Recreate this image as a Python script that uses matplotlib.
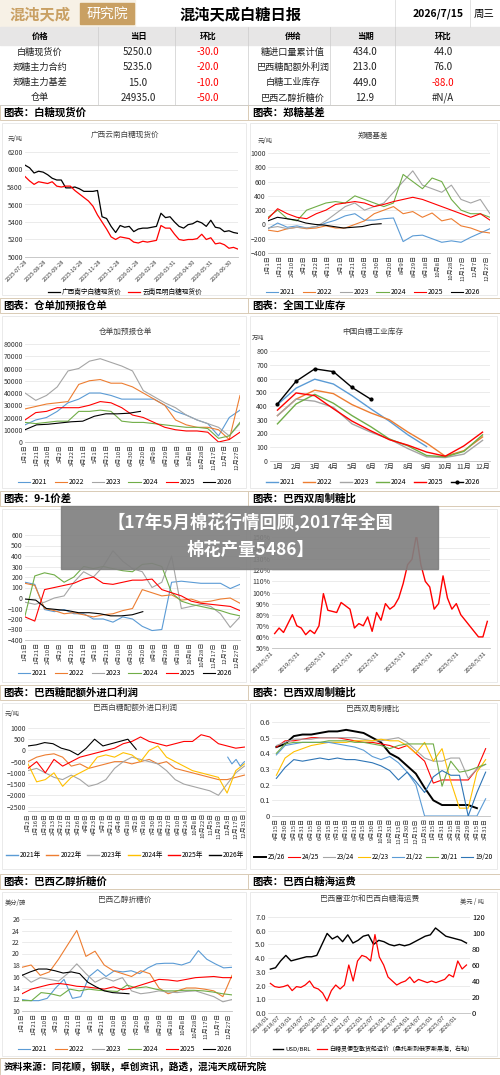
import numpy as np
import matplotlib
matplotlib.use("Agg")
import matplotlib.pyplot as plt
from matplotlib.patches import Rectangle

plt.rcParams['font.family'] = ['Noto Sans CJK SC', 'DejaVu Sans']

W, H = 500, 1075
C = {'2021': '#5b9bd5', '2022': '#ed7d31', '2023': '#a5a5a5',
     '2024': '#70ad47', '2025': '#ff0000', '2026': '#000000'}
YEARS = ['2021', '2022', '2023', '2024', '2025', '2026']

# ---- table ----
tbl_left = [["白糖现货价", "5250.0", "-30.0"], ["郑糖主力合约", "5235.0", "-20.0"],
            ["郑糖主力基差", "15.0", "-10.0"], ["仓单", "24935.0", "-50.0"]]
tbl_right = [["糖进口量累计值", "434.0", "44.0"], ["巴西糖配额外利润", "213.0", "76.0"],
             ["白糖工业库存", "449.0", "-88.0"], ["巴西乙醇折糖价", "12.9", "#N/A"]]

# ---- chart 1: spot price ----
spot_dates = ["2025-07-28", "2025-08-28", "2025-09-28", "2025-10-28", "2025-11-28", "2025-12-28",
              "2026-01-28", "2026-02-28", "2026-03-31", "2026-04-30", "2026-05-31", "2026-06-30"]
spot_nn = [6050, 6020, 5960, 5980, 5970, 5940, 5900, 5880, 5880, 5790, 5790, 5800, 5780, 5750, 5750, 5750,
           5760, 5460, 5440, 5350, 5280, 5360, 5340, 5350, 5290, 5320, 5330, 5330, 5340, 5350, 5500, 5450,
           5460, 5400, 5350, 5330, 5370, 5380, 5410, 5390, 5350, 5420, 5340, 5330, 5290, 5300, 5280, 5270]
spot_km = [5920, 5870, 5830, 5860, 5850, 5840, 5860, 5810, 5800, 5810, 5810, 5760, 5720, 5680, 5640, 5580,
           5480, 5400, 5320, 5230, 5200, 5230, 5220, 5210, 5170, 5160, 5180, 5170, 5180, 5190, 5360, 5330,
           5330, 5260, 5200, 5190, 5200, 5200, 5210, 5260, 5200, 5220, 5150, 5160, 5140, 5100, 5110, 5090]

DAY_LBL = ["1月1日", "1月21日", "2月10日", "3月2日", "3月22日", "4月11日", "5月1日", "5月21日", "6月10日",
           "6月30日", "7月20日", "8月9日", "8月29日", "9月18日", "10月8日", "10月28日", "11月17日",
           "12月7日", "12月27日"]

# ---- chart 2: basis ----
basis = {
    '2021': [-60, 20, -40, -20, -50, -30, 20, 60, 120, 150, 60, 60, 80, 90, -240, -160, -150, -200, -250, -230, -250, -180, -120, -60],
    '2022': [-80, -100, -60, -40, -60, -50, -20, -50, -50, 0, 50, 150, 200, 250, 150, 180, 100, 160, 50, 80, -20, -50, -100, -120],
    '2023': [-50, -30, -60, -40, -50, -30, 50, 150, 250, 300, 200, 250, 300, 450, 600, 750, 550, 500, 450, 550, 350, 300, 350, 150],
    '2024': [100, 200, 80, 50, 200, 250, 300, 320, 300, 400, 350, 300, 250, 300, 700, 600, 500, 650, 600, 350, 200, 150, 150, 100],
    '2025': [80, 220, 150, 100, 80, 150, 200, 280, 300, 320, 300, 250, 280, 320, 350, 380, 350, 300, 250, 200, 150, 100, 150, 60],
    '2026': [50, 100, 80, 60, 20, 0, -10, -30, -50, -40, -30, 0, 10],
}

# ---- chart 3: warehouse receipts ----
receipts = {
    '2021': [14000, 18000, 20000, 25000, 32000, 35000, 40000, 40000, 38000, 35000, 35000, 35000, 35000, 30000, 25000, 22000, 18000, 15000, 5000, 20000, 26000],
    '2022': [27000, 29000, 31000, 32000, 33000, 47000, 50000, 51000, 48000, 48000, 45000, 40000, 35000, 30000, 18000, 14000, 12000, 12000, 10000, 2000, 38000],
    '2023': [40000, 34000, 38000, 45000, 58000, 60000, 66000, 68000, 65000, 62000, 58000, 42000, 37000, 32000, 28000, 22000, 18000, 15000, 12000, 5000, 15000],
    '2024': [16000, 15000, 16000, 17000, 17000, 25000, 25000, 26000, 25000, 17000, 16000, 16000, 15000, 14000, 13000, 12000, 12000, 11000, 3000, 5000, 16000],
    '2025': [18000, 24000, 25000, 28000, 28000, 28000, 30000, 33000, 32000, 28000, 22000, 20000, 16000, 12000, 10000, 9000, 9000, 8000, 0, 2000, 8000],
    '2026': [10000, 14000, 14500, 15500, 16500, 17000, 21000, 23000, 23000, 23500, 25000],
}

# ---- chart 4: industrial inventory ----
months = ["1月", "2月", "3月", "4月", "5月", "6月", "7月", "8月", "9月", "10月", "11月", "12月"]
inventory = {
    '2021': [410, 530, 595, 560, 475, 380, 290, 190, 105],
    '2022': [330, 450, 515, 490, 410, 350, 300, 210, 130, 35, 75, 175],
    '2023': [330, 450, 435, 390, 270, 210, 160, 90, 30, 25, 50, 150],
    '2024': [270, 415, 485, 420, 330, 250, 160, 110, 40, 30, 70, 190],
    '2025': [370, 495, 475, 380, 290, 220, 155, 115, 65, 35, 110, 210],
    '2026': [415, 580, 670, 650, 535, 450],
}

# ---- chart 5: 9-1 spread ----
spread = {
    '2021': [150, 130, -110, -130, -110, -150, -150, -200, -200, -230, -180, -200, -270, -310, -300, 150, 160, 150, 140, 140, 140, 90, 130],
    '2022': [140, 120, -100, -120, -150, -140, -160, -180, -160, -150, -120, -100, 80, 50, 20, 30, -20, -10, -40, -30, -10, 0, -50],
    '2023': [-40, -60, -40, 0, 20, 150, 250, 200, 300, 450, 350, 280, 250, 100, 150, 400, -100, -80, -60, -80, -150, -280, -180],
    '2024': [-170, 210, 240, 220, 150, 200, 300, 280, 300, 280, 260, 250, 320, 330, 300, 50, -30, -60, -80, -100, -120, -150, -170],
    '2025': [-180, -220, 80, 100, 120, 140, 180, 200, 140, 130, 150, 170, 170, 180, 80, 50, 20, -30, -50, -60, -70, -80, -120],
    '2026': [-10, -20, -100, -110, -120, -140, -140, -150, -170, -170, -160, -130],
}

# ---- chart 6: Brazil ratio ----
ratio_lbl = ["2018/5/31", "2019/5/31", "2020/5/31", "2021/5/31", "2022/5/31",
             "2023/5/31", "2024/5/31", "2025/5/31", "2026/5/31"]
ratio = [63, 68, 64, 72, 80, 70, 68, 62, 66, 63, 70, 99, 84, 83, 82, 91, 88, 85, 68, 72, 70, 78, 65, 82, 75,
         90, 85, 88, 95, 108, 125, 130, 152, 125, 110, 105, 85, 90, 115, 95, 85, 90, 80, 75, 70, 65, 60, 60, 74]

# ---- chart 7: import profit ----
PROFIT_LBL = ["1月2日", "1月16日", "1月30日", "2月13日", "2月27日", "3月12日", "3月26日", "4月9日", "4月23日",
              "5月7日", "5月21日", "6月4日", "6月18日", "7月2日", "7月16日", "7月30日", "8月13日", "8月27日",
              "9月10日", "9月24日", "10月8日", "10月22日", "11月5日", "11月19日", "12月3日", "12月17日", "12月31日"]
profit = {
    '2022': [-500, -300, -200, -150, -300, -700, -600, -800, -700, -600, -500, -500, -600, -500, -400, -600, -500, -800, -900, -1000, -1100, -1200, -1300, -1300, -1200, -1100],
    '2023': [-900, -800, -1000, -1200, -1300, -1100, -1300, -1600, -1500, -1300, -800, -500, -300, -400, -500, -600, -900, -1300, -1500, -1600, -1700, -1800, -2000, -1500, -1000, -700],
    '2024': [-600, -1400, -1300, -1000, -1600, -1200, -1000, -800, -300, -200, -300, -100, -200, -500, 0, 200, -300, -500, -700, -900, -1000, -1100, -1200, -1900, -900, -600],
    '2025': [-800, -500, -1000, -400, -700, -500, -300, -200, -100, 0, 100, 300, 400, 600, 400, 300, 200, 300, 400, 400, 700, 600, 300, 200, 100, 150],
    '2026': [200, 250, 350, 300, 100, 0, -200, 100, 500, 200, 300, 400, 500, 50],
}
profit_2021_tail = [-300, -600, -400, -700, -500]

# ---- chart 8: biweekly mix ----
MIX_LBL = ["4月15日", "4月30日", "5月15日", "5月31日", "6月15日", "6月30日", "7月15日", "7月31日", "8月15日",
           "8月31日", "9月15日", "9月30日", "10月15日", "10月31日", "11月15日", "11月30日", "12月15日",
           "12月31日", "1月15日", "1月31日", "2月15日", "2月28日", "2月29日", "3月15日", "3月31日"]
mix_names = ["25/26", "24/25", "23/24", "22/23", "21/22", "20/21", "19/20"]
mix_colors = ['#000000', '#ff0000', '#a5a5a5', '#ffc000', '#5b9bd5', '#70ad47', '#2e75b6']
mix = [
    [0.44, 0.46, 0.51, 0.52, 0.52, 0.53, 0.54, 0.54, 0.55, 0.54, 0.53, 0.50, 0.47, 0.40, 0.37, 0.32, 0.27, 0.18, 0.10, 0.07, 0.07, 0.07, 0.07, 0.05],
    [0.44, 0.48, 0.48, 0.49, 0.50, 0.50, 0.50, 0.50, 0.49, 0.48, 0.47, 0.47, 0.46, 0.45, 0.43, 0.45, 0.40, 0.35, 0.21, 0.23, 0.23, 0.23, 0.23, 0.30, 0.43],
    [0.45, 0.47, 0.49, 0.49, 0.49, 0.50, 0.50, 0.50, 0.50, 0.50, 0.49, 0.48, 0.48, 0.49, 0.50, 0.47, 0.42, 0.37, 0.35, 0.35, 0.37, 0.37, 0.24, 0.30, 0.33],
    [0.26, 0.37, 0.41, 0.43, 0.45, 0.46, 0.47, 0.47, 0.47, 0.48, 0.48, 0.48, 0.49, 0.48, 0.48, 0.45, 0.40, 0.47, 0.35, 0.43, 0.22, 0.05, 0.05, 0.28, 0.36],
    [0.39, 0.45, 0.46, 0.47, 0.47, 0.47, 0.47, 0.46, 0.45, 0.44, 0.42, 0.38, 0.36, 0.38, 0.34, 0.28, 0.20, 0.0, 0.0, 0.0, 0.0, 0.0, 0.0, 0.0, 0.11],
    [0.40, 0.46, 0.47, 0.47, 0.47, 0.47, 0.48, 0.48, 0.48, 0.47, 0.47, 0.46, 0.45, 0.43, 0.45, 0.46, 0.46, 0.46, 0.46, 0.19, 0.35, 0.28, 0.29, 0.31, 0.33],
    [0.24, 0.31, 0.36, 0.35, 0.36, 0.37, 0.36, 0.37, 0.36, 0.36, 0.35, 0.34, 0.32, 0.29, 0.23, 0.28, 0.22, 0.15, 0.25, 0.29, 0.26, 0.26, 0.0, 0.15, 0.28],
]

# ---- chart 9: ethanol parity ----
ethanol = {
    '2021': [12, 11.8, 11.8, 12.2, 14, 15.5, 12.2, 12.5, 16, 17.2, 16, 17, 16.8, 17, 16.5, 17.5, 18.2, 18.3, 18.3, 18, 18.5, 20.5, 19, 18.2, 17.5, 17.6],
    '2022': [17.6, 18, 16.2, 16.8, 19, 21.5, 24, 19.5, 20.4, 18, 17, 16.5, 16, 17, 16.5, 14, 13, 13.5, 14, 14, 13.8, 13.5, 12.5, 16.2],
    '2023': [16.3, 15, 15.8, 15.5, 15.2, 16.5, 18.2, 16.5, 15, 15.8, 15.2, 15.8, 13.5, 13, 13.2, 13.5, 13.3, 13.2, 13.4, 13.5, 13, 12.5, 11.6, 12],
    '2024': [11.8, 11.8, 13.2, 13, 12.6, 13.8, 13.5, 13.8, 13.6, 13.5, 13.4, 14.5, 14, 14.2, 13.8, 13.5, 13.5, 13.6, 13.6, 13.5, 13.3, 13, 12.8],
    '2025': [13, 13.8, 14.2, 14.6, 14.8, 14.6, 14.3, 14.2, 14, 13.8, 14.2, 13.7, 14, 14.5, 15, 15.5, 15.4, 15.2, 15.5, 15.8, 15.9, 16, 15.8, 15.8],
    '2026': [16.2, 16.8, 17.3, 17.3, 17, 16.6, 16.8, 16.5, 15, 14.2, 13.5, 13.2, 13.1, 13.0],
}

# ---- chart 10: FX and freight ----
fx_lbl = ["2018/01", "2018/07", "2019/01", "2019/07", "2020/01", "2020/07", "2021/01", "2021/07", "2022/01",
          "2022/07", "2023/01", "2023/07", "2024/01", "2024/07", "2025/01", "2025/07", "2026/01"]
usd_brl = [3.2, 3.3, 3.8, 4.2, 3.8, 3.9, 4.0, 4.1, 4.1, 4.2, 5.0, 5.8, 5.4, 5.6, 5.2, 5.7, 5.1, 5.3, 5.6, 5.7,
           5.0, 5.3, 5.2, 5.0, 4.9, 5.0, 4.9, 5.0, 5.2, 5.4, 5.6, 5.7, 6.2, 5.9, 5.6, 5.5, 5.4, 5.3, 5.1]
freight = [37, 33, 32, 33, 35, 28, 33, 32, 35, 40, 32, 30, 25, 15, 28, 35, 30, 35, 60, 40, 65, 72, 70, 65, 98,
           70, 60, 45, 40, 35, 38, 40, 45, 38, 42, 40, 38, 40, 38, 40, 42, 48, 45, 65, 55, 60]


def ax_px(l, t, r, b):
    return fig.add_axes([l / W, 1 - b / H, (r - l) / W, (b - t) / H])


def style(ax, fs=5):
    for s in ['top', 'right', 'left']:
        ax.spines[s].set_visible(False)
    ax.spines['bottom'].set_color('#bfbfbf')
    ax.spines['bottom'].set_linewidth(0.6)
    ax.grid(axis='y', color='#e3e3e3', lw=0.5)
    ax.set_axisbelow(True)
    ax.tick_params(labelsize=fs, length=0, pad=1.5, colors='#333333')


def day_axis(ax, labels, step, xmax):
    ax.set_xlim(0, xmax)
    ax.set_xticks(np.arange(len(labels)) * step)
    ax.set_xticklabels(labels, rotation=90, fontsize=4.3)


def plot_years(ax, data, span, lw=0.8, end_days=None):
    for y, vals in data.items():
        end = span if y != '2026' else end_days
        ax.plot(np.linspace(0, end, len(vals)), vals, color=C[y], lw=lw, label=y)


def legend(ax, xc, y, ncol=6, fs=5, handles=None, labels=None, colsp=1.0):
    args = [] if handles is None else [handles, labels]
    ax.legend(*args, loc='center', bbox_to_anchor=(xc / W, 1 - y / H), bbox_transform=fig.transFigure,
              ncol=ncol, frameon=False, fontsize=fs, handlelength=1.8, columnspacing=colsp,
              handletextpad=0.3, borderpad=0)


def panel_title(x, y, s, fs=5.5):
    fig.text(x / W, 1 - y / H, s, ha='center', va='center', fontsize=fs, color='#404040')


fig = plt.figure(figsize=(W / 100, H / 100), dpi=100)
fig.patch.set_facecolor('white')
bg = fig.add_axes([0, 0, 1, 1])
bg.set_xlim(0, W)
bg.set_ylim(H, 0)
bg.axis('off')

# header
bg.add_patch(Rectangle((0, 0), 135, 27, color='#f7f1e6'))
bg.text(40, 14, "混沌天成", fontsize=11, color='#c9a063', ha='center', va='center', fontweight='bold')
bg.add_patch(Rectangle((80, 3), 54, 21, color='#c9a063'))
bg.text(107, 14, "研究院", fontsize=10, color='white', ha='center', va='center')
bg.text(240, 14, "混沌天成白糖日报", fontsize=11, fontweight='bold', ha='center', va='center')
bg.text(438, 14, "2026/7/15", fontsize=7.5, ha='center', va='center', fontweight='bold')
bg.text(484, 14, "周三", fontsize=7.5, ha='center', va='center')
for xv in [395, 470]:
    bg.plot([xv, xv], [0, 27], color='#dddddd', lw=0.6)

# table
bg.add_patch(Rectangle((0, 27), W, 18, color='#e7e6e6'))
cols_l = [40, 138, 208]
cols_r = [293, 365, 443]
for xs, hd in [(cols_l, ["价格", "当日", "环比"]), (cols_r, ["供给", "当期", "环比"])]:
    for x, s in zip(xs, hd):
        bg.text(x, 36, s, fontsize=6, fontweight='bold', ha='center', va='center')
for i in range(4):
    yv = 52 + i * 15.3
    for xs, row in [(cols_l, tbl_left[i]), (cols_r, tbl_right[i])]:
        for j, (x, s) in enumerate(zip(xs, row)):
            red = j == 2 and s.startswith('-')
            bg.text(x, yv, s, fontsize=7 if j else 6.6, ha='center', va='center',
                    color='#ff0000' if red else '#222222')
for xv in [98, 175, 248, 330, 395]:
    bg.plot([xv, xv], [27, 105], color='#cccccc', lw=0.5)
bg.plot([0, W], [105, 105], color='#cccccc', lw=0.6)

# section headers and panel frames
sections = [(105, "图表：白糖现货价", "图表：郑糖基差"),
            (298, "图表：仓单加预报仓单", "图表：全国工业库存"),
            (491, "图表：9-1价差", "图表：巴西双周制糖比"),
            (685, "图表：巴西糖配额外进口利润", "图表：巴西双周制糖比"),
            (874, "图表：巴西乙醇折糖价", "图表：巴西白糖海运费")]
panel_bottoms = [296, 489, 683, 870, 1057]
for (ys, a, b), pb in zip(sections, panel_bottoms):
    bg.add_patch(Rectangle((0, ys), W, 15, facecolor='#ffffff', edgecolor='#d9cbb5', lw=0.7))
    bg.plot([248, 248], [ys, ys + 15], color='#d9cbb5', lw=0.7)
    bg.text(3, ys + 7.5, a, fontsize=7.5, fontweight='bold', va='center')
    bg.text(252, ys + 7.5, b, fontsize=7.5, fontweight='bold', va='center')
    bg.add_patch(Rectangle((2, ys + 18), 244, pb - ys - 19, facecolor='none', edgecolor='#e6e6e6', lw=0.6))
    bg.add_patch(Rectangle((250, ys + 18), 247, pb - ys - 19, facecolor='none', edgecolor='#e6e6e6', lw=0.6))

# footer
bg.add_patch(Rectangle((0, 1058), W, 17, facecolor='#ffffff', edgecolor='#d9cbb5', lw=0.7))
bg.text(4, 1067, "资料来源：同花顺，钢联，卓创资讯，路透，混沌天成研究院", fontsize=7,
        fontweight='bold', va='center')

# 1 spot price
ax = ax_px(25, 152, 238, 257)
style(ax)
xs = np.linspace(0, len(spot_dates) - 1 + 0.45, len(spot_nn))
ax.plot(xs, spot_nn, color='black', lw=0.9, label="广西南宁白糖现货价")
ax.plot(xs, spot_km, color='red', lw=0.9, label="云南昆明白糖现货价")
ax.set_ylim(5000, 6200)
ax.set_yticks(range(5000, 6201, 200))
ax.set_xlim(0, len(spot_dates) - 1 + 0.45)
ax.set_xticks(range(len(spot_dates)))
ax.set_xticklabels(spot_dates, rotation=45, ha='right', rotation_mode='anchor', fontsize=4)
legend(ax, 125, 292, ncol=2, fs=4.8)
panel_title(125, 135, "广西云南白糖现货价")
fig.text(8 / W, 1 - 141 / H, "元/吨", fontsize=4.5, color='#404040')

# 2 basis
ax = ax_px(268, 153, 490, 253)
style(ax)
plot_years(ax, basis, 365, end_days=186)
ax.set_ylim(-400, 1000)
ax.set_yticks(range(-400, 1001, 200))
day_axis(ax, DAY_LBL, 20, 365)
legend(ax, 373, 292)
panel_title(373, 136, "郑糖基差")
fig.text(258 / W, 1 - 143 / H, "元/吨", fontsize=4.5, color='#404040')

# 3 receipts
ax = ax_px(25, 344, 240, 442)
style(ax)
plot_years(ax, receipts, 365, end_days=196)
ax.set_ylim(0, 80000)
ax.set_yticks(range(0, 80001, 10000))
day_axis(ax, DAY_LBL, 20, 365)
legend(ax, 125, 482)
panel_title(125, 332, "仓单加预报仓单")

# 4 inventory
ax = ax_px(270, 351, 490, 461)
style(ax)
for y, vals in inventory.items():
    if y == '2026':
        ax.plot(range(len(vals)), vals, color=C[y], lw=1.0, marker='o', ms=2, label=y)
    else:
        ax.plot(range(len(vals)), vals, color=C[y], lw=1.0, label=y)
ax.set_ylim(0, 800)
ax.set_yticks(range(0, 801, 100))
ax.set_xlim(-0.4, 11.4)
ax.set_xticks(range(12))
ax.set_xticklabels(months, fontsize=5)
legend(ax, 373, 482)
panel_title(373, 332, "中国白糖工业库存")
fig.text(252 / W, 1 - 340 / H, "万吨", fontsize=4.5, color='#404040')

# 5 spread
ax = ax_px(25, 535, 240, 640)
style(ax)
plot_years(ax, spread, 365, end_days=200)
ax.set_ylim(-400, 600)
ax.set_yticks(range(-400, 601, 100))
day_axis(ax, DAY_LBL, 20, 365)
legend(ax, 125, 673)

# 6 Brazil ratio
ax = ax_px(272, 537, 490, 648)
style(ax)
ax.plot(np.linspace(0, 8, len(ratio)), ratio, color='red', lw=1.0)
ax.set_ylim(50, 150)
ax.set_yticks(range(50, 151, 10))
ax.set_yticklabels([f"{v}%" for v in range(50, 151, 10)])
ax.set_xlim(-0.1, 8.1)
ax.set_xticks(range(len(ratio_lbl)))
ax.set_xticklabels(ratio_lbl, rotation=45, ha='right', fontsize=4.3)

# 7 import profit
ax = ax_px(28, 728, 245, 811)
style(ax)
for y, vals in profit.items():
    end = 182 if y == '2026' else 364
    ax.plot(np.linspace(0, end, len(vals)), vals, color=C[y] if y != '2024' else '#ffc000', lw=0.8)
ax.plot(np.linspace(336, 364, len(profit_2021_tail)), profit_2021_tail, color=C['2021'], lw=0.8)
ax.set_ylim(-2700, 1000)
ax.set_yticks(range(-2500, 1001, 500))
day_axis(ax, PROFIT_LBL, 14, 365)
handles = [plt.Line2D([], [], color=c, lw=1) for c in [C['2021'], C['2022'], C['2023'], '#ffc000', C['2025'], C['2026']]]
legend(ax, 125, 855, fs=4.8, handles=handles, labels=[y + "年" for y in YEARS], colsp=0.8)
panel_title(135, 708, "巴西白糖配额外进口利润")
fig.text(5 / W, 1 - 716 / H, "元/吨", fontsize=4.5, color='#404040')

# 8 biweekly mix
ax = ax_px(272, 722, 490, 816)
style(ax)
for name, col, vals in zip(mix_names, mix_colors, mix):
    ax.plot(range(len(vals)), vals, color=col, lw=1.4 if name == "25/26" else 0.8, label=name)
ax.set_ylim(0, 0.6)
ax.set_yticks(np.arange(0, 0.61, 0.1))
ax.set_yticklabels(["0", "0.1", "0.2", "0.3", "0.4", "0.5", "0.6"], fontsize=5.5)
ax.set_xlim(-0.5, 24.5)
ax.set_xticks(range(len(MIX_LBL)))
ax.set_xticklabels(MIX_LBL, rotation=90, fontsize=4.3)
legend(ax, 373, 857, ncol=7, fs=4.8, colsp=0.5)
panel_title(373, 709, "巴西双周制糖比")

# 9 ethanol parity
ax = ax_px(22, 919, 232, 1011)
style(ax)
plot_years(ax, ethanol, 365, end_days=186)
ax.set_ylim(10, 26)
ax.set_yticks(range(10, 27, 2))
day_axis(ax, DAY_LBL, 20, 365)
legend(ax, 125, 1049)
panel_title(125, 900, "巴西乙醇折糖价")
fig.text(5 / W, 1 - 905 / H, "美分/磅", fontsize=4.5, color='#404040')

# 10 FX and freight
ax = ax_px(268, 917, 470, 1013)
style(ax)
ax.plot(np.linspace(0, 16.7, len(usd_brl)), usd_brl, color='black', lw=1.0, label="USD/BRL")
ax.set_ylim(0, 7)
ax.set_yticks(range(0, 8))
ax.set_yticklabels([f"{v:.1f}" for v in range(0, 8)], fontsize=5.5)
ax.set_xlim(-0.2, 17)
ax.set_xticks(range(len(fx_lbl)))
ax.set_xticklabels(fx_lbl, rotation=45, ha='right', fontsize=4.3)
ax2 = ax.twinx()
ax2.plot(np.linspace(0, 16.7, len(freight)), freight, color='red', lw=0.9,
         label="白糖灵便型散货船运价（桑托斯到俄罗斯黑海，右轴）")
ax2.set_ylim(0, 120)
ax2.set_yticks(range(0, 121, 20))
for s in ['top', 'right', 'left', 'bottom']:
    ax2.spines[s].set_visible(False)
ax2.tick_params(labelsize=5.5, length=0, pad=1.5)
h1, l1 = ax.get_legend_handles_labels()
h2, l2 = ax2.get_legend_handles_labels()
legend(ax2, 373, 1049, ncol=2, fs=4.3, handles=h1 + h2, labels=l1 + l2)
panel_title(370, 899, "巴西雷亚尔和巴西白糖海运费")
fig.text(460 / W, 1 - 904 / H, "美元 / 吨", fontsize=4.5, color='#404040')

# watermark banner on top of everything
top = fig.add_axes([0, 0, 1, 1], zorder=20)
top.set_xlim(0, W)
top.set_ylim(H, 0)
top.axis('off')
top.add_patch(Rectangle((61, 506), 377, 63, color='#808080', alpha=0.92))
top.text(250, 523, "【17年5月棉花行情回顾,2017年全国", fontsize=12.5, color='white', fontweight='bold',
         ha='center', va='center')
top.text(250, 550, "棉花产量5486】", fontsize=12.5, color='white', fontweight='bold',
         ha='center', va='center')

fig.savefig("out.png", dpi=100)
